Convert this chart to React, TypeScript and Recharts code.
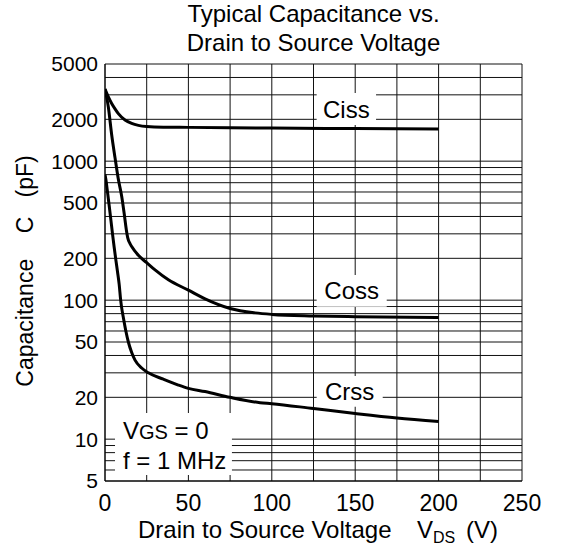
import React from 'react';
import {
  CartesianGrid,
  Label,
  Line,
  LineChart,
  ReferenceArea,
  XAxis,
  YAxis,
} from 'recharts';

const FONT = '"Liberation Sans", Arial, Helvetica, sans-serif';

// axis ticks (grid follows every tick, only some get a label)
const X_TICKS = [0, 25, 50, 75, 100, 125, 150, 175, 200, 225, 250];
const X_LABELED = [0, 50, 100, 150, 200, 250];
const Y_TICKS = [
  5, 6, 7, 8, 9, 10, 20, 30, 40, 50, 60, 70, 80, 90, 100, 200, 300, 400, 500,
  600, 700, 800, 900, 1000, 2000, 3000, 4000, 5000,
];
const Y_LABELED = [5, 10, 20, 50, 100, 200, 500, 1000, 2000, 5000];

// Ciss (pF) vs VDS (V)
const CISS_V = [0, 2, 4, 6, 8, 12, 16, 20, 25, 35, 50, 100, 150, 200];
const CISS_C = [3300, 2900, 2600, 2380, 2200, 1980, 1870, 1810, 1775, 1755, 1750, 1730, 1715, 1700];

// Coss
const COSS_V = [0, 2, 4, 6, 8, 10, 11.5, 12.8, 13.6, 15, 16, 20, 25, 30, 38, 50, 60, 75, 90, 100, 125, 150, 200];
const COSS_C = [3300, 2450, 1550, 1060, 740, 560, 420, 320, 282, 255, 243, 210, 186, 165, 140, 118, 102, 87, 81, 79, 77, 76, 75];

// Crss
const CRSS_V = [0, 0.5, 1.5, 2.5, 3.5, 4.5, 5.5, 6.5, 7.5, 8.5, 9.4, 10, 11, 12.5, 14, 16, 18, 22, 26, 35, 44, 50, 60, 75, 93, 100, 125, 150, 175, 200];
const CRSS_C = [800, 740, 600, 480, 380, 300, 240, 195, 160, 130, 100, 88, 75, 60, 50, 42, 37, 32.5, 30, 27, 24.5, 23.2, 22, 20, 18.3, 18, 16.6, 15.3, 14.2, 13.4];

const zip = (vs: number[], cs: number[]) => vs.map((v, i) => ({ v, c: cs[i] }));

const ciss = zip(CISS_V, CISS_C);
const coss = zip(COSS_V, COSS_C);
const crss = zip(CRSS_V, CRSS_C);

const XAxisTitle = () => (
  <text x={138} y={538} fontSize={24} fontFamily={FONT} fill="#000" style={{ whiteSpace: 'pre' }}>
    <tspan>Drain to Source Voltage</tspan>
    <tspan x={417}>V</tspan>
    <tspan fontSize={16} dy={5}>DS</tspan>
    <tspan x={466} dy={-5}>(V)</tspan>
  </text>
);

const YAxisTitle = () => (
  <text
    x={33}
    y={271}
    transform="rotate(-90, 33, 271)"
    textAnchor="middle"
    fontSize={23}
    fontFamily={FONT}
    fill="#000"
    style={{ whiteSpace: 'pre' }}
  >
    Capacitance    C   (pF)
  </text>
);

const CondLabel = (props: any) => {
  const { x, y } = props.viewBox;
  return (
    <text fontSize={24} fontFamily={FONT} fill="#000" style={{ whiteSpace: 'pre' }}>
      <tspan x={x + 8} y={y + 26}>V</tspan>
      <tspan fontSize={20}>GS</tspan>
      <tspan> = 0</tspan>
      <tspan x={x + 8} y={y + 56}>f = 1 MHz</tspan>
    </text>
  );
};

const areaLabel = (value: string) => ({
  value,
  position: 'center' as const,
  fontSize: 24,
  fill: '#000',
  fontFamily: FONT,
});

export default function App() {
  return (
    <div style={{ position: 'relative', width: 561, height: 552, background: '#fff' }}>
      <style>{'body{margin:0;background:#fff}'}</style>
      <div
        style={{
          position: 'absolute',
          left: 105,
          top: -1,
          width: 417,
          textAlign: 'center',
          fontFamily: FONT,
          fontSize: 24,
          lineHeight: '29px',
          color: '#000',
          zIndex: 1,
        }}
      >
        Typical Capacitance vs.
        <br />
        Drain to Source Voltage
      </div>
      <LineChart
        width={561}
        height={552}
        margin={{ top: 64, right: 39, bottom: 31, left: 25 }}
        style={{ position: 'absolute', left: 0, top: 0 }}
      >
        <CartesianGrid stroke="#111" strokeWidth={1} />
        <XAxis
          type="number"
          dataKey="v"
          domain={[0, 250]}
          ticks={X_TICKS}
          interval={0}
          allowDataOverflow
          height={40}
          tickLine={false}
          tickSize={6}
          tickMargin={8}
          axisLine={{ stroke: '#000' }}
          tick={{ fontSize: 23, fill: '#000', fontFamily: FONT }}
          tickFormatter={(v: number) => (X_LABELED.includes(v) ? String(v) : '')}
        >
          <Label content={<XAxisTitle />} />
        </XAxis>
        <YAxis
          type="number"
          scale="log"
          domain={[5, 5000]}
          ticks={Y_TICKS}
          interval={0}
          allowDataOverflow
          width={80}
          tickLine={false}
          tickSize={6}
          tickMargin={1}
          axisLine={{ stroke: '#000' }}
          tick={{ fontSize: 21, fill: '#000', fontFamily: FONT }}
          tickFormatter={(v: number) => (Y_LABELED.includes(v) ? String(v) : '')}
        >
          <Label content={<YAxisTitle />} />
        </YAxis>

        <ReferenceArea x1={126.9} x2={162.5} y1={1820} y2={3092} fill="#fff" fillOpacity={1} stroke="none" label={areaLabel('Ciss')} />
        <ReferenceArea x1={126.9} x2={168.9} y1={89.7} y2={151.7} fill="#fff" fillOpacity={1} stroke="none" label={areaLabel('Coss')} />
        <ReferenceArea x1={126.9} x2={166.5} y1={17.1} y2={28.5} fill="#fff" fillOpacity={1} stroke="none" label={areaLabel('Crss')} />
        <ReferenceArea x1={6} x2={76.1} y1={5.52} y2={15.4} fill="#fff" fillOpacity={1} stroke="none" label={<CondLabel />} />

        <Line data={ciss} dataKey="c" type="monotone" stroke="#000" strokeWidth={3} dot={false} isAnimationActive={false} />
        <Line data={coss} dataKey="c" type="monotone" stroke="#000" strokeWidth={3} dot={false} isAnimationActive={false} />
        <Line data={crss} dataKey="c" type="monotone" stroke="#000" strokeWidth={3} dot={false} isAnimationActive={false} />
      </LineChart>
    </div>
  );
}
